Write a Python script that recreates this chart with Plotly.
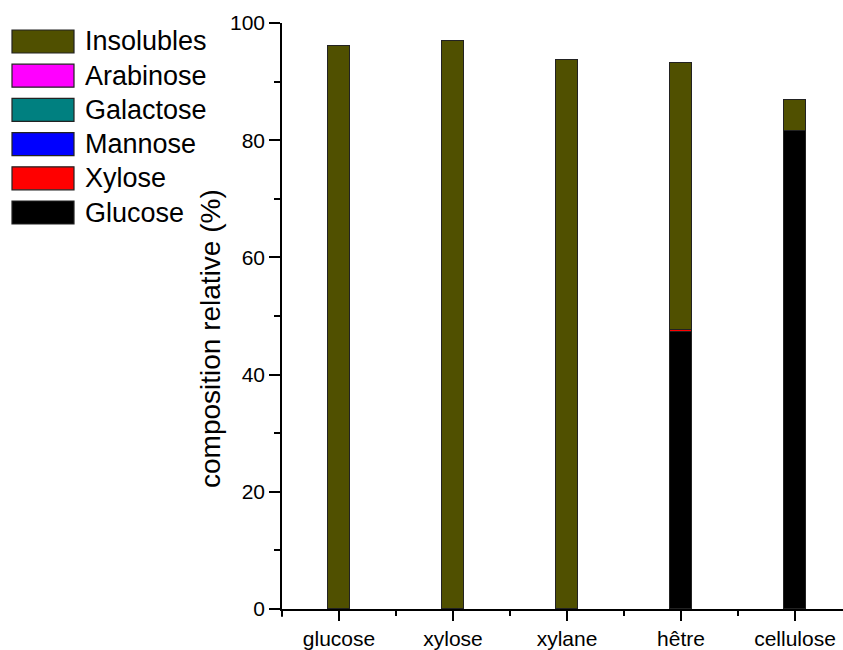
import plotly.graph_objects as go

categories = ["glucose", "xylose", "xylane", "hêtre", "cellulose"]
series_names = ["Glucose", "Xylose", "Mannose", "Galactose", "Arabinose", "Insolubles"]
glucose = [0, 0, 0, 47.2, 81.5]
xylose = [0, 0, 0, 0.4, 0]
mannose = [0, 0, 0, 0, 0]
galactose = [0, 0, 0, 0, 0]
arabinose = [0, 0, 0, 0, 0]
insolubles = [96.1, 96.9, 93.7, 45.6, 5.4]
colors = ["#000000", "#FF0000", "#0000FF", "#008080", "#FF00FF", "#505000"]
y_ticks = [0, 20, 40, 60, 80, 100]

values = [glucose, xylose, mannose, galactose, arabinose, insolubles]
xpos = list(range(len(categories)))

FIG_W, FIG_H = 843, 650
L, R, T, B = 282, 0, 23, 41
PW, PH = FIG_W - L - R, FIG_H - T - B
FONT = "Liberation Sans, Arial, sans-serif"

def px2paper(px, py):
    return (px - L) / PW, (FIG_H - B - py) / PH

fig = go.Figure()
for name, vals, col in zip(series_names, values, colors):
    fig.add_trace(go.Bar(
        x=xpos, y=[v if v else None for v in vals], name=name, width=0.2,
        marker=dict(color=col, line=dict(color="#222222", width=1)),
        showlegend=False,
    ))

# custom legend (top to bottom: reversed stack order)
shapes = []
annotations = []
for i, (name, col) in enumerate(zip(series_names[::-1], colors[::-1])):
    top = 30 + i * 34.2
    x0, y0 = px2paper(12, top + 23)
    x1, y1 = px2paper(74, top)
    shapes.append(dict(type="rect", xref="paper", yref="paper", x0=x0, x1=x1, y0=y0, y1=y1,
                       fillcolor=col, line=dict(color="#222222", width=1.2)))
    tx, ty = px2paper(83, top + 11.5)
    annotations.append(dict(xref="paper", yref="paper", x=tx, y=ty, text=name, showarrow=False,
                            xanchor="left", yanchor="middle",
                            font=dict(family=FONT, size=27, color="black")))

# y axis line extension below the x axis
xa, ya0 = px2paper(282, 609)
_, ya1 = px2paper(282, 617)
shapes.append(dict(type="line", xref="paper", yref="paper", x0=xa, x1=xa, y0=ya0, y1=ya1,
                   line=dict(color="black", width=1.5)))

tx, ty = px2paper(210, 339)
annotations.append(dict(xref="paper", yref="paper", x=tx, y=ty, text="composition relative (%)",
                        showarrow=False, textangle=-90, xanchor="center", yanchor="middle",
                        font=dict(family=FONT, size=28, color="black")))

fig.update_layout(
    barmode="stack",
    width=FIG_W, height=FIG_H,
    margin=dict(l=L, r=R, t=T, b=B, pad=0, autoexpand=False),
    plot_bgcolor="white", paper_bgcolor="white",
    shapes=shapes, annotations=annotations,
    bargap=0,
    font=dict(family=FONT, size=21, color="black"),
)
fig.update_xaxes(
    automargin=False,
    range=[-0.5, (PW / 114.0) - 0.5],
    tickvals=xpos, ticktext=categories,
    showgrid=False, zeroline=False,
    showline=True, linecolor="black", linewidth=1.5,
    ticks="outside", ticklen=10, tickwidth=1.5, tickcolor="black",
    minor=dict(tick0=0.5, dtick=1, ticks="outside", ticklen=5, tickwidth=1.5, tickcolor="black"),
    tickfont=dict(size=21),
)
fig.update_yaxes(
    automargin=False,
    range=[0, 100], tickvals=y_ticks,
    showgrid=False, zeroline=False,
    showline=True, linecolor="black", linewidth=1.5,
    ticks="outside", ticklen=11, tickwidth=1.5, tickcolor="black",
    minor=dict(tick0=10, dtick=20, ticks="outside", ticklen=6, tickwidth=1.5, tickcolor="black"),
    tickfont=dict(size=21),
)

fig.write_html("out.html", config={"displayModeBar": False},
               post_script="document.body.style.margin='0';document.body.style.overflow='hidden';")
